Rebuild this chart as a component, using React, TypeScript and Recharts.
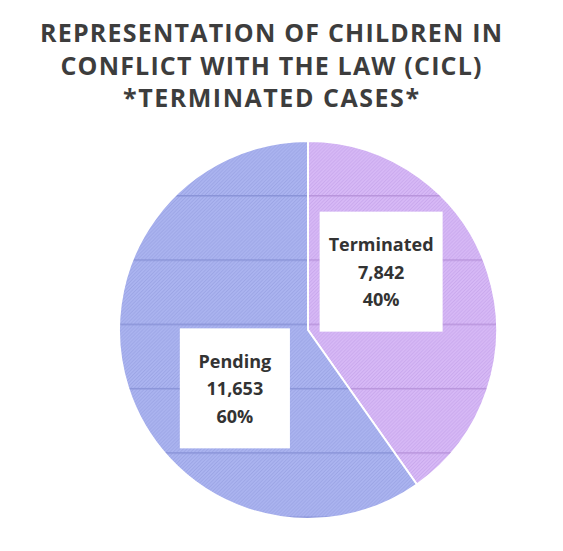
import React from "react";
import { PieChart, Pie, Cell } from "recharts";

const categories = ["Terminated", "Pending"];
const caseCounts = [7842, 11653];
const countLabels = ["7,842", "11,653"];
const percentLabels = ["40%", "60%"];
const titleLines = [
  "REPRESENTATION OF CHILDREN IN",
  "CONFLICT WITH THE LAW (CICL)",
  "*TERMINATED CASES*",
];

const data = categories.map((name, i) => ({
  name,
  value: caseCounts[i],
  count: countLabels[i],
  pct: percentLabels[i],
}));

const RADIAN = Math.PI / 180;
const LABEL_FONT = "'Open Sans', 'Noto Sans', sans-serif";

// Excel "best fit" put both boxes about 21deg past the slice middle
const renderLabel = (props: any) => {
  const { cx, cy, midAngle, outerRadius, index } = props;
  const a = (midAngle + 21) * RADIAN;
  const r = outerRadius * 0.495;
  const x = cx + r * Math.cos(-a);
  const y = cy + r * Math.sin(-a);
  const d = data[index];
  const maxLen = Math.max(d.name.length, d.count.length, d.pct.length);
  const w = 80 + 4.3 * maxLen;
  const h = 120;
  const lines = [d.name, d.count, d.pct];
  return (
    <g key={`lbl-${index}`}>
      <rect x={x - w / 2} y={y - h / 2} width={w} height={h} fill="#fff" />
      {lines.map((t, j) => (
        <text
          key={j}
          x={x}
          y={y + (j - 1) * 27.5}
          textAnchor="middle"
          dominantBaseline="central"
          fill="#333"
          fontFamily={LABEL_FONT}
          fontWeight="bold"
          fontSize={18}
        >
          {t}
        </text>
      ))}
    </g>
  );
};

export default function App() {
  return (
    <div
      style={{
        position: "absolute",
        left: 0,
        top: 0,
        width: 563,
        height: 551,
        background: "#fff",
      }}
    >
      <PieChart width={563} height={551} margin={{ top: 0, right: 0, bottom: 0, left: 0 }}>
        <defs>
          <pattern id="hatchBlue" width="2.5" height="2.5" patternUnits="userSpaceOnUse" patternTransform="rotate(-45)">
            <rect width="2.5" height="2.5" fill="#abb4f0" />
            <rect width="2.5" height="0.8" fill="#9aa4e4" />
          </pattern>
          <pattern id="hatchPurple" width="2.5" height="2.5" patternUnits="userSpaceOnUse" patternTransform="rotate(-45)">
            <rect width="2.5" height="2.5" fill="#d7b9f6" />
            <rect width="2.5" height="0.8" fill="#c8a6ec" />
          </pattern>
          <pattern id="fillBlue" x="0" y="195" width="563" height="64.3" patternUnits="userSpaceOnUse">
            <rect width="563" height="64.3" fill="url(#hatchBlue)" />
            <rect width="563" height="1.5" fill="#8a94d8" />
          </pattern>
          <pattern id="fillPurple" x="0" y="195" width="563" height="64.3" patternUnits="userSpaceOnUse">
            <rect width="563" height="64.3" fill="url(#hatchPurple)" />
            <rect width="563" height="1.5" fill="#b995dc" />
          </pattern>
        </defs>
        <Pie
          data={data}
          dataKey="value"
          nameKey="name"
          cx={308}
          cy={330}
          outerRadius={189}
          startAngle={90}
          endAngle={-270}
          stroke="#fff"
          strokeWidth={2}
          label={renderLabel}
          labelLine={false}
          isAnimationActive={false}
        >
          <Cell fill="url(#fillPurple)" />
          <Cell fill="url(#fillBlue)" />
        </Pie>
      </PieChart>
      <svg
        width={563}
        height={120}
        style={{ position: "absolute", left: 0, top: 0 }}
      >
        {titleLines.map((t, i) => (
          <text
            key={i}
            x={271}
            y={42 + i * 32.5}
            textAnchor="middle"
            textLength={[462, 421, 296][i]}
            lengthAdjust="spacing"
            fill="#3d3d3d"
            fontFamily={LABEL_FONT}
            fontWeight={700}
            fontSize={25}
          >
            {t}
          </text>
        ))}
      </svg>
    </div>
  );
}
